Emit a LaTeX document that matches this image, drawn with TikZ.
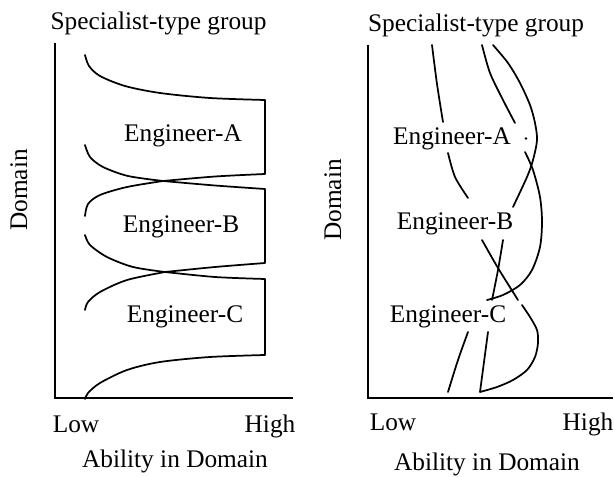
\documentclass[tikz,border=0pt]{standalone}
\usepackage{fontspec}
\setmainfont{Liberation Serif}
\begin{document}
\begin{tikzpicture}[x=0.75pt,y=-0.75pt,
  curve/.style={line width=1.3pt,line join=round,line cap=round},
  axis/.style={line width=1.2pt},
  lbl/.style={font=\fontsize{19}{22}\selectfont,inner sep=0pt,anchor=base}]
\useasboundingbox (0,0) rectangle (614,477);
% ---------- left panel ----------
\coordinate (Lo) at (55,398);
\coordinate (Ltop) at (55,43);
\coordinate (Lend) at (293,398);
\draw[axis] (Ltop) -- (Lo) -- (Lend);
\node[lbl] (t1) at (158.5,30) {Specialist-type group};
\node[lbl] (ea1) at (183,142) {Engineer-A};
\node[lbl] (eb1) at (181,233) {Engineer-B};
\node[lbl] (ec1) at (185,322) {Engineer-C};
\node[lbl] (lo1) at (76,432) {Low};
\node[lbl] (hi1) at (270,432) {High};
\node[lbl] (ab1) at (175,467) {Ability in Domain};
\node[lbl,rotate=90] (do1) at (27,190) {Domain};
% A
\draw[curve] plot[smooth] coordinates {(85,55) (89,66) (100,76) (125,86) (160,93) (210,98) (265,100)}
  -- (265,174)
  -- plot[smooth] coordinates {(265,174) (215,176.5) (163,181)}
  -- plot[smooth] coordinates {(163,181) (128,176) (103,167) (90,157) (85,145)};
% B
\draw[curve] plot[smooth] coordinates {(85,216) (88,204) (100,195) (127,187) (163,181)}
  -- plot[smooth] coordinates {(163,181) (215,185.5) (265,189)}
  -- (265,263)
  -- plot[smooth] coordinates {(265,263) (215,267) (165,272)}
  -- plot[smooth] coordinates {(165,272) (133,267) (107,257) (90,245) (85,235)};
% C
\draw[curve] plot[smooth] coordinates {(85,310) (88,302) (100,292) (127,280) (165,272)}
  -- plot[smooth] coordinates {(165,272) (215,277) (265,279)}
  -- (265,355)
  -- plot[smooth] coordinates {(265,355) (210,357) (160,362) (127,370) (100,383) (88,393) (85,399)};
% ---------- right panel ----------
\coordinate (Ro) at (368,398);
\coordinate (Rtop) at (368,45);
\coordinate (Rend) at (613,398);
\draw[axis] (Rtop) -- (Ro) -- (Rend);
\node[lbl] (t2) at (476,32) {Specialist-type group};
\node[lbl] (ea2) at (452,145) {Engineer-A};
\node[lbl] (eb2) at (455,230) {Engineer-B};
\node[lbl] (ec2) at (448,322) {Engineer-C};
\node[lbl] (lo2) at (393,430) {Low};
\node[lbl] (hi2) at (588,430) {High};
\node[lbl] (ab2) at (487,470) {Ability in Domain};
\node[lbl,rotate=90] (do2) at (341,200) {Domain};
\draw[curve] plot[smooth] coordinates {(432,45) (437,84) (443,122)};
\draw[curve] plot[smooth] coordinates {(448,153) (455,177) (468,198)};
\draw[curve] plot[smooth] coordinates {(482,45) (490,73) (503,100) (515,123)};
\draw[curve] plot[smooth] coordinates {(493,45) (508,63) (520,83) (530,105) (535,123) (537,140) (533,160) (527,177) (513,207)};
\fill (526,138.5) circle (1.3);
\draw[curve] plot[smooth] coordinates {(525,152) (533,170) (540,197) (542,222) (540,247) (532,270) (520,285) (503,295) (487,300)};
\draw[curve] plot[smooth] coordinates {(482,240) (498,268) (518,300)};
\draw[curve] plot[smooth] coordinates {(503,240) (498,270) (492,300)};
\draw[curve] plot[smooth] coordinates {(522,305) (530,317) (537,330) (538,343) (535,357) (527,370) (513,380) (497,387) (480,392)}
  -- (488,332);
\draw[curve] plot[smooth] coordinates {(468,332) (458,360) (448,392)};
\end{tikzpicture}
\end{document}
